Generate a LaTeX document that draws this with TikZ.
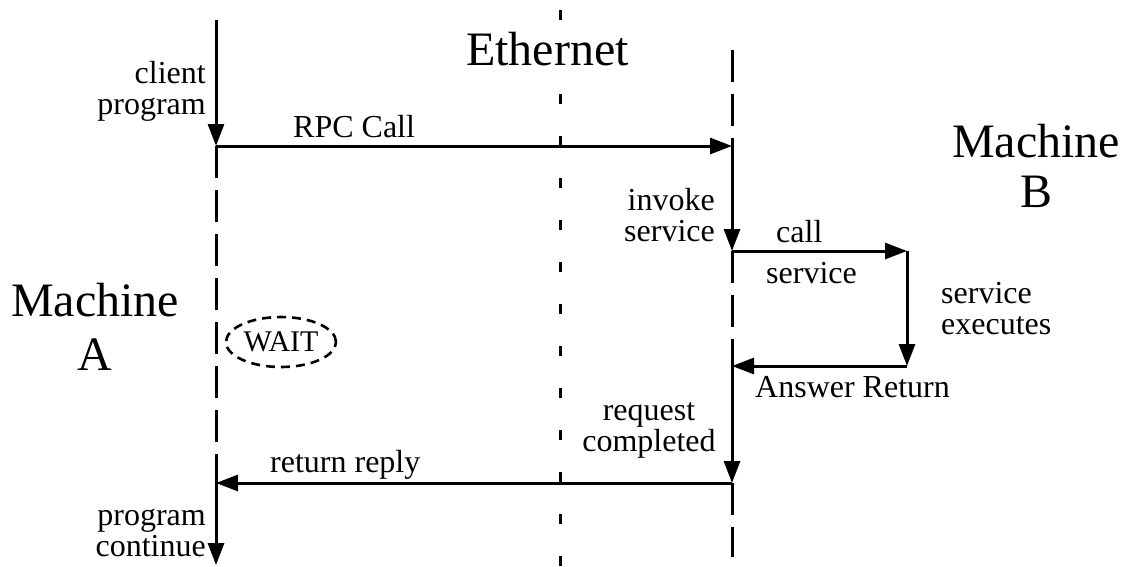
\documentclass[tikz,border=0pt]{standalone}
\usepackage{fontspec}
\setmainfont{Liberation Serif}
\usetikzlibrary{arrows.meta,shapes.geometric}

\begin{document}
\begin{tikzpicture}[x=1pt,y=-1pt,
  lbl/.style={inner sep=0pt, text depth=0pt, font=\fontsize{32}{31}\selectfont},
  big/.style={inner sep=0pt, text depth=0pt, font=\fontsize{48}{50}\selectfont},
  flow/.style={line width=3pt, -{Triangle[length=22pt,width=16pt]}},
  idle/.style={line width=3pt, dash pattern=on 32pt off 12pt},
  net/.style={line width=3pt, dash pattern=on 10pt off 32pt},
  waitbox/.style={ellipse, draw, line width=2.6pt, dash pattern=on 9pt off 6pt,
    minimum width=110pt, minimum height=50pt, inner sep=0pt,
    font=\fontsize{30}{30}\selectfont},
]
\useasboundingbox (0,0) rectangle (1132,566);

% client time line (machine A)
\coordinate (A0) at (216,20);
\coordinate (A1) at (216,146);
\coordinate (A2) at (216,483);
\coordinate (A3) at (216,565);
% server time line (machine B)
\coordinate (B0) at (732,50);
\coordinate (B1) at (732,146);
\coordinate (B2) at (732,251);
\coordinate (B3) at (732,366);
\coordinate (B4) at (732,483);
\coordinate (B5) at (732,557);
% service loop corners
\coordinate (S1) at (907,251);
\coordinate (S2) at (907,366);
% network boundary
\coordinate (E0) at (560,10);
\coordinate (E1) at (560,566);

% network boundary line
\draw[net] (E0) -- (E1);

% idle (waiting) parts of the time lines
\draw[idle] (A1) -- (A2);
\draw[idle] (B0) -- (B1);
\draw[idle] (B2) -- (B3);
\draw[idle] (B4) -- (B5);

% active parts and messages
\draw[flow] (A0) -- (A1);
\draw[flow] (A1) -- (B1);
\draw[flow] (B1) -- (B2);
\draw[flow] (B2) -- (S1);
\draw[flow] (S1) -- (S2);
\draw[flow] (S2) -- (B3);
\draw[flow] (B3) -- (B4);
\draw[flow] (B4) -- (A2);
\draw[flow] (A2) -- (A3);

% labels
\node[big, fill=white, inner sep=1pt, anchor=base west] (eth) at (465,65) {Ethernet};
\node[big, align=center, anchor=south] (machB) at (1036,208) {Machine\\B};
\node[big, align=center, anchor=south, font=\fontsize{48}{54}\selectfont] (machA) at (95,371) {Machine\\A};

\node[lbl, align=right, anchor=south east] (client) at (206,115) {client\\program};
\node[lbl, anchor=base west] (rpc) at (293,137) {RPC Call};
\node[lbl, align=right, anchor=south east] (invoke) at (715,242) {invoke\\service};
\node[lbl, anchor=base west] (call) at (776,242) {call};
\node[lbl, anchor=base west] (callsvc) at (766,283) {service};
\node[lbl, align=left, anchor=south west] (exec) at (941,335) {service\\executes};
\node[lbl, anchor=base west] (answer) at (755,397) {Answer Return};
\node[lbl, align=center, anchor=south] (done) at (649,452) {request\\completed};
\node[lbl, anchor=base west] (reply) at (270,472) {return reply};
\node[lbl, align=right, anchor=south east] (cont) at (206,557) {program\\continue};

\node[waitbox] (wait) at (281,342) {WAIT};
\end{tikzpicture}
\end{document}
